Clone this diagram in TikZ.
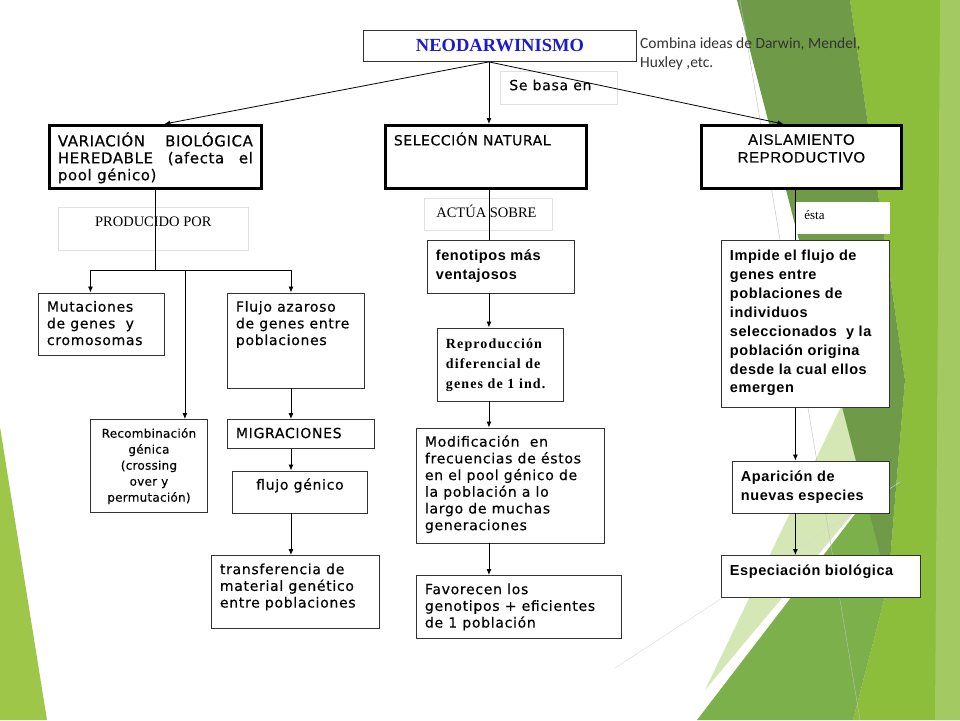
\documentclass[tikz,border=0pt]{standalone}
\usepackage{fontspec}
\usetikzlibrary{arrows.meta}

\newfontfamily\verdana[LetterSpace=5, FakeBold=0.35]{DejaVu Sans}
\newfontfamily\verdcaps[LetterSpace=4, FakeBold=0.35]{DejaVu Sans}
\newfontfamily\verdtight[LetterSpace=2, FakeBold=0.35]{DejaVu Sans}
\newfontfamily\arial[LetterSpace=4]{Liberation Sans}
\newfontfamily\arialreg[LetterSpace=4, FakeBold=0.3]{Liberation Sans}
\newfontfamily\timesf{Liberation Serif}
\newfontfamily\timesw[LetterSpace=8]{Liberation Serif}
\newfontfamily\calibri{Carlito}

\definecolor{neoblue}{RGB}{28,28,205}
\definecolor{leafgreen}{RGB}{140,189,59}
\definecolor{mossgreen}{RGB}{111,154,72}
\definecolor{grassgreen}{RGB}{123,176,74}
\definecolor{palegreen}{RGB}{213,231,181}
\definecolor{leftgreen}{RGB}{158,199,74}

% text block of fixed size, text at the top
\newcommand{\boxtext}[3]{\parbox[t][#2][t]{#1}{\raggedright\strut #3}}

\begin{document}
\begin{tikzpicture}[x=1pt, y=-1pt,
    box/.style={
        draw=black!80,
        line width=0.9pt,
        fill=white,
        anchor=north west,
        inner xsep=8.5pt,
        inner ysep=7pt
    },
    heavy/.style={box, draw=black, line width=2.8pt},
    tag/.style={
        draw=black!12,
        line width=0.6pt,
        fill=white,
        anchor=north west,
        inner xsep=9pt,
        inner ysep=7pt
    },
    verd/.style={font=\verdana\fontsize{14}{16.7}\selectfont},
    ari/.style={font=\arial\bfseries\fontsize{14.5}{18.9}\selectfont},
    serif/.style={font=\timesf\fontsize{14.5}{17}\selectfont},
    link/.style={line width=0.8pt},
    arr/.style={link, -{Latex[length=6pt, width=5pt]}}
]

% Background
\useasboundingbox (0,0) rectangle (960,720);
\fill[white] (0,0) rectangle (960,720);
\fill[leafgreen] (850,0) -- (960,0) -- (960,720) -- (853,720) -- (888,585) -- (905,380) -- cycle;
\fill[leafgreen!80!white] (940,0) -- (960,0) -- (960,720) -- (935,720) -- cycle;
\fill[palegreen] (848,392) -- (705,690) -- (885,475) -- (893,430) -- cycle;
\fill[grassgreen] (697,720) -- (853,720) -- (888,585) -- (885,475) -- cycle;
\fill[mossgreen] (737,0) -- (850,0) -- (905,380) -- (888,585) -- cycle;
\fill[leftgreen] (0,427) -- (47,720) -- (0,720) -- cycle;
\draw[black!25, line width=0.4pt] (740,0) -- (860,720);
\draw[black!15, line width=0.4pt] (615,668) -- (900,482);

% Top
\node[box, inner sep=0pt, minimum width=273pt, minimum height=31pt,
      font=\timesf\bfseries\fontsize{18.5}{20}\selectfont, text=neoblue] (neo) at (363,30) {NEODARWINISMO};
\node[anchor=north west, inner sep=0pt, align=left, text=black!80,
      font=\calibri\fontsize{15.5}{19}\selectfont] (note) at (640,37.5) {Combina ideas de Darwin, Mendel,\\Huxley ,etc.};

% Labels
\node[tag, font=\verdana\fontsize{14}{17}\selectfont] (basa) at (500,71) {\boxtext{99pt}{19pt}{Se basa en}};
\node[tag, serif] (prod) at (58,207) {\boxtext{172pt}{29pt}{\centering PRODUCIDO POR}};
\node[tag, serif] (actua) at (424,198) {\boxtext{110pt}{18pt}{\hspace{3pt}ACTÚA SOBRE}};
\node[tag, draw=white, font=\timesf\fontsize{13}{15}\selectfont] (esta) at (795,201.5) {\boxtext{76pt}{17pt}{ésta}};

% Main boxes
\node[heavy, font=\verdcaps\fontsize{15}{17}\selectfont] (var) at (48,124)
    {\boxtext{195pt}{49pt}{\makebox[\linewidth][s]{VARIACIÓN BIOLÓGICA}\\\makebox[\linewidth][s]{HEREDABLE (afecta el}\\pool génico)}};
\node[heavy, font=\verdcaps\fontsize{14}{17}\selectfont] (sel) at (384,124) {\boxtext{184pt}{49pt}{SELECCIÓN NATURAL}};
\node[heavy, font=\arialreg\fontsize{15}{17.7}\selectfont] (ais) at (700,124) {\boxtext{183pt}{49pt}{\centering AISLAMIENTO\\REPRODUCTIVO}};

% Left column
\node[box, verd] (mut) at (38,292.5) {\boxtext{109pt}{48pt}{Mutaciones\\de genes\ \ y\\cromosomas}};
\node[box, verd] (flu) at (227,292.5) {\boxtext{120pt}{81pt}{Flujo azaroso\\de genes entre\\poblaciones}};
\node[box, font=\verdtight\fontsize{12}{16}\selectfont] (rec) at (90,419)
    {\boxtext{100pt}{79pt}{\centering Recombinación\\génica\\(crossing\\over y\\permutación)}};
\node[box, verd] (mig) at (227,419) {\boxtext{130pt}{15pt}{MIGRACIONES}};
\node[box, verd] (gen) at (232,470.5) {\boxtext{118pt}{28pt}{\centering flujo génico}};
\node[box, verd] (tra) at (211,555) {\boxtext{151pt}{59pt}{transferencia de\\material genético\\entre poblaciones}};

% Middle column
\node[box, ari] (fen) at (427,239.5) {\boxtext{130pt}{39pt}{fenotipos más\\ventajosos}};
\node[box, font=\timesw\bfseries\fontsize{14}{20}\selectfont] (rep) at (437,327.5)
    {\boxtext{109pt}{59pt}{Reproducción\\diferencial de\\genes de 1 ind.}};
\node[box, verd] (mod) at (416,427.5)
    {\boxtext{171pt}{101pt}{Modificación\ \ en\\frecuencias de éstos\\en el pool génico de\\la población a lo\\largo de muchas\\generaciones}};
\node[box, verd] (fav) at (416,575) {\boxtext{188pt}{49pt}{Favorecen los\\genotipos + eficientes\\de 1 población}};

% Right column
\node[box, ari] (imp) at (721,240)
    {\boxtext{151pt}{153pt}{Impide el flujo de\\genes entre\\poblaciones de\\individuos\\seleccionados\ \ y la\\población origina\\desde la cual ellos\\emergen}};
\node[box, ari] (apa) at (732,460.5) {\boxtext{140pt}{38pt}{Aparición de\\nuevas especies}};
\node[box, ari] (esp) at (721,555) {\boxtext{182pt}{28pt}{Especiación biológica}};

% Connectors
\coordinate (hub) at ([xshift=-11pt]neo.south);
\draw[arr] (hub) -- ([xshift=9pt]var.north);
\draw[arr] (hub) -- (hub |- sel.north);
\draw[arr] (hub) -- ([xshift=-18pt]ais.north);

\coordinate (fork) at (var.south |- 0,270);
\coordinate (recin) at ([xshift=-23pt]rec.north east);
\coordinate (lcol) at ([xshift=-5pt]flu.south);
\draw[link] (var.south) -- (fork);
\draw[arr] (fork) -| ([xshift=-11pt]mut.north);
\draw[arr] (fork) -| ([xshift=-5pt]flu.north);
\draw[arr] (recin |- fork) -- (recin);
\draw[arr] (lcol) -- (lcol |- mig.north);
\draw[arr] (mig.south -| lcol) -- (gen.north -| lcol);
\draw[arr] (gen.south -| lcol) -- (tra.north -| lcol);

\draw[link] (sel.south -| hub) -- (fen.north -| hub);
\draw[arr] (fen.south -| hub) -- (rep.north -| hub);
\draw[arr] (rep.south -| hub) -- (mod.north -| hub);
\draw[arr] (mod.south -| hub) -- (fav.north -| hub);

\coordinate (rcol) at ([xshift=-6pt]ais.south);
\draw[link] (rcol) -- (rcol |- imp.north);
\draw[arr] (imp.south -| rcol) -- (apa.north -| rcol);
\draw[arr] (apa.south -| rcol) -- (esp.north -| rcol);

\end{tikzpicture}
\end{document}
